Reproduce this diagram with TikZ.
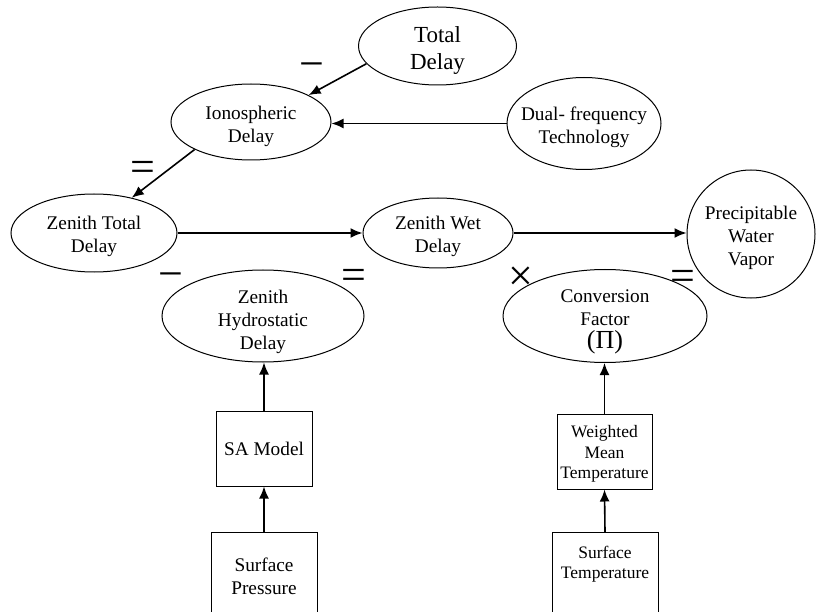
\documentclass[tikz,border=0pt]{standalone}
\usepackage{fontspec}
\setmainfont{Liberation Serif}
\usetikzlibrary{shapes.geometric,arrows.meta}
\newcommand\myfont{\fontsize{19.3}{23}\selectfont}
\newcommand\smfont{\fontsize{17.5}{20.3}\selectfont}
\begin{document}
\begin{tikzpicture}[x=1pt,y=-1pt,
  ell/.style={draw, ellipse, line width=1pt, inner sep=0pt},
  boxn/.style={draw, rectangle, line width=1pt, inner sep=0pt, align=center},
  txt/.style={inner sep=0pt, align=center, font=\myfont},
  arr/.style={line width=1.6pt, -{Latex[length=12pt,width=10pt]}},
  sign/.style={font=\fontsize{44}{44}\selectfont, inner sep=0pt}]
\useasboundingbox (0,0) rectangle (816,612);

% ellipses
\node[ell, minimum width=158, minimum height=78] (td) at (437.5,46) {};
\node[txt, font=\fontsize{23}{27}\selectfont] (tdt) at (437.5,51) {Total\\Delay};
\node[ell, minimum width=160, minimum height=76] (ion) at (251,122) {};
\node[txt] (iont) at (251,126) {Ionospheric\\Delay};
\node[ell, minimum width=154, minimum height=92] (dual) at (584,123.5) {};
\node[txt] (dualt) at (584,127) {Dual- frequency\\Technology};
\node[ell, minimum width=166, minimum height=78] (ztd) at (94,233) {};
\node[txt] (ztdt) at (94,236) {Zenith Total\\Delay};
\node[ell, minimum width=150, minimum height=70] (zwd) at (438,233) {};
\node[txt] (zwdt) at (438,236) {Zenith Wet\\Delay};
\node[draw, circle, line width=1pt, inner sep=0pt, minimum size=128] (pwv) at (751,234) {};
\node[txt] (pwvt) at (751,238) {Precipitable\\Water\\Vapor};
\node[ell, minimum width=202, minimum height=92] (zhd) at (263,316) {};
\node[txt] (zhdt) at (263,322) {Zenith\\Hydrostatic\\Delay};
\node[ell, minimum width=204, minimum height=93] (cf) at (605,316) {};
\node[txt] (cft) at (605,322) {Conversion\\Factor\\{\fontsize{26}{24}\selectfont(Π)}};

% boxes
\node[boxn, minimum width=96, minimum height=75, font=\myfont] (sa) at (264,448.5) {SA Model};
\node[boxn, minimum width=95, minimum height=75] (wmt) at (604.5,451.5) {};
\node[txt, font=\smfont] (wmtt) at (604.5,454) {Weighted\\Mean\\Temperature};
\node[boxn, minimum width=106, minimum height=90, anchor=north] (sp) at (264,532) {};
\node[txt] (sptxt) at (264,576) {Surface\\Pressure};
\node[boxn, minimum width=106, minimum height=90, anchor=north] (st) at (605,532) {};
\node[txt, font=\smfont] (sttxt) at (605,564) {Surface\\Temperature};

% arrows
\draw[arr] (td.194) -- (ion.25);
\draw[arr] (dual.west) -- (dual.west -| ion.east);
\draw[arr] (ion.206) -- (ztd.43);
\draw[arr] (ztd.east) -- (zwd.west);
\draw[arr] (zwd.east) -- (zwd.east -| pwv.west);
\draw[arr] (sa.north) -- (sa.north |- zhd.south);
\draw[arr] (sp.north) -- (sa.south);
\draw[arr] (wmt.north) -- (wmt.north |- cf.south);
\draw[arr] (st.north) -- (wmt.south);

% operator signs
\node[sign] (s1) at (312,71) {−};
\node[sign] (s2) at (143,171) {=};
\node[sign] (s3) at (171,281) {−};
\node[sign] (s4) at (354,279) {=};
\node[sign] (s5) at (521,279) {×};
\node[sign] (s6) at (683,280) {=};
\end{tikzpicture}
\end{document}
